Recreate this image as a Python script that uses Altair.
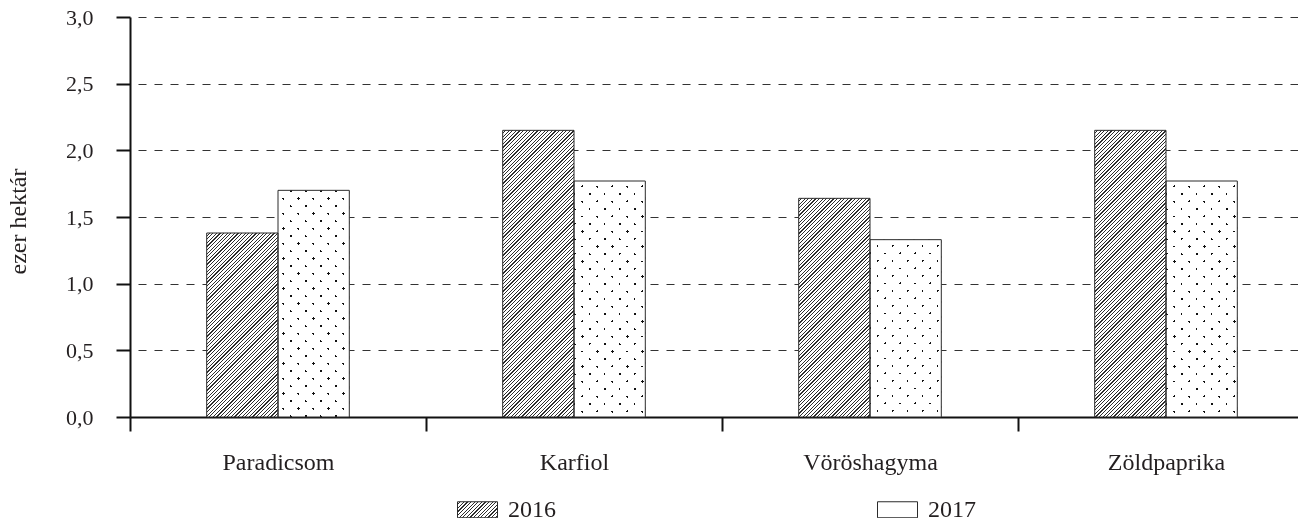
import altair as alt
import pandas as pd

# ---------------- data ----------------
categories = ["Paradicsom", "Karfiol", "Vöröshagyma", "Zöldpaprika"]
years = ["2016", "2017"]
values_2016 = [1.38, 2.15, 1.64, 2.15]
values_2017 = [1.70, 1.77, 1.33, 1.77]
y_ticks = [0.0, 0.5, 1.0, 1.5, 2.0, 2.5, 3.0]
y_title = "ezer hektár"

rows = []
for c, v16, v17 in zip(categories, values_2016, values_2017):
    rows.append({"category": c, "year": years[0], "value": v16})
    rows.append({"category": c, "year": years[1], "value": v17})
df = pd.DataFrame(rows)

# ---------------- layout / style ----------------
FONT = "Liberation Serif"
INK = "#231f20"
PLOT_W = 1184
PLOT_H = 400
Y_MAX = 3.0
STEP = PLOT_W / len(categories)
OFF_PAD = 0.0757
OFF_DOMAIN = [" ", years[0], years[1], "  "]  # blank slots left/right of the bar pair
BAR_W = STEP / (4 + 2 * OFF_PAD)
H_EXPR = f"(datum.value*{PLOT_H / Y_MAX:.6f})"


def stops_js(K, dark_frac, dark, light):
    parts = []
    for k in range(K):
        a = k / K
        b = (k + 1 - dark_frac) / K
        c = (k + 1) / K
        parts.append(f"{{offset:{a:.5f},color:'{light}'}}")
        parts.append(f"{{offset:{b:.5f},color:'{light}'}}")
        parts.append(f"{{offset:{b:.5f},color:'{dark}'}}")
        parts.append(f"{{offset:{c:.5f},color:'{dark}'}}")
    return "[" + ",".join(parts) + "]"


def diag_grad(w, h, S, stops, rising=True):
    den = f"({h}*{h}+{w}*{w})"
    dx = f"({w}*{S}/{den})"
    dy = f"({h}*{S}/{den})"
    if rising:
        return f"{{gradient:'linear',x1:0,y1:0,x2:{dx},y2:{dy},stops:{stops}}}"
    return f"{{gradient:'linear',x1:0,y1:1,x2:{dx},y2:1-{dy},stops:{stops}}}"


W_STR = f"{BAR_W:.4f}"
# hatch "///" : period 3.6 px
HP = 3.6
HK = 117
HATCH = diag_grad(W_STR, H_EXPR, HK * HP, stops_js(HK, 1.2 / HP, "#2e2e2e", "#ffffff"), True)
# dots: intersection of two diagonal stripe families (lighten blend)
DQ = 15.0
DK = 28
DOT1 = diag_grad(W_STR, H_EXPR, DK * DQ, stops_js(DK, 2.6 / DQ, "#111111", "#ffffff"), True)
DOT2 = diag_grad(W_STR, H_EXPR, DK * DQ, stops_js(DK, 2.6 / DQ, "#111111", "#ffffff"), False)
# legend hatch (fixed symbol box 40 x 16)
LEG_HATCH = diag_grad("40", "16", 16 * HP, stops_js(16, 1.2 / HP, "#2e2e2e", "#ffffff"), True)

base = alt.Chart(df).encode(
    x=alt.X(
        "category:N",
        sort=categories,
        scale=alt.Scale(paddingInner=0, paddingOuter=0),
        axis=alt.Axis(
            title=None,
            labelAngle=0,
            tickBand="extent",
            tickSize=14,
            tickWidth=2,
            tickColor="#111111",
            domainWidth=2,
            domainColor="#111111",
            labelFont=FONT,
            labelFontSize=24,
            labelColor=INK,
            labelPadding=19,
            grid=False,
        ),
    ),
    xOffset=alt.XOffset(
        "year:N",
        scale=alt.Scale(domain=OFF_DOMAIN, paddingInner=0, paddingOuter=OFF_PAD),
    ),
    y=alt.Y(
        "value:Q",
        scale=alt.Scale(domain=[0, Y_MAX], nice=False),
        axis=alt.Axis(
            title=y_title,
            values=y_ticks,
            labelExpr="replace(format(datum.value, '.1f'), '.', ',')",
            tickSize=14,
            tickWidth=2,
            tickColor="#111111",
            domainWidth=2,
            domainColor="#111111",
            labelFont=FONT,
            labelFontSize=22,
            labelColor=INK,
            labelPadding=23,
            grid=True,
            gridDash=[8, 8],
            gridDashOffset=8,
            gridColor="#333333",
            gridWidth=1.2,
            titleFont=FONT,
            titleFontSize=24,
            titleFontWeight="normal",
            titleColor=INK,
            titleAngle=270,
            titleAlign="center",
            titleBaseline="bottom",
            titleX=-100,
            titleY=204,
        ),
    ),
)

bars_2016 = (
    base.transform_filter(f"datum.year == '{years[0]}'")
    .transform_calculate(grad=HATCH)
    .mark_bar(strokeWidth=0)
    .encode(color=alt.Color("grad:N", scale=None))
)
bars_2017_a = (
    base.transform_filter(f"datum.year == '{years[1]}'")
    .transform_calculate(grad=DOT1)
    .mark_bar(strokeWidth=0)
    .encode(color=alt.Color("grad:N", scale=None))
)
bars_2017_b = (
    base.transform_filter(f"datum.year == '{years[1]}'")
    .transform_calculate(grad=DOT2)
    .mark_bar(strokeWidth=0, blend="lighten")
    .encode(color=alt.Color("grad:N", scale=None))
)
outlines = base.mark_bar(fill="transparent", stroke="#2b2b2b", strokeWidth=1)

legend_layer = (
    base.transform_filter("false")
    .mark_bar(stroke="#2b2b2b", strokeWidth=1)
    .encode(
        fill=alt.Fill(
            "year:N",
            scale=alt.Scale(domain=years, range=[alt.ExprRef(expr=LEG_HATCH), "#ffffff"]),
            legend=alt.Legend(
                title=None,
                orient="none",
                legendX=327,
                legendY=472,
                direction="horizontal",
                symbolType="M-1,-0.4H1V0.4H-1Z",
                symbolSize=1600,
                symbolStrokeColor="#2b2b2b",
                symbolStrokeWidth=1,
                labelFont=FONT,
                labelFontSize=24,
                labelColor=INK,
                labelOffset=10,
                columnPadding=319,
                padding=0,
            ),
        )
    )
)

chart = (
    alt.layer(bars_2016, bars_2017_a, bars_2017_b, outlines, legend_layer)
    .properties(
        width=PLOT_W,
        height=PLOT_H,
        autosize=alt.AutoSizeParams(type="none"),
        padding={"left": 122, "top": 9, "right": -16, "bottom": 101},
        background="white",
    )
    .configure(font=FONT)
    .configure_view(stroke="transparent")
)

chart.save("out.html", embed_options={"renderer": "svg", "actions": False})
